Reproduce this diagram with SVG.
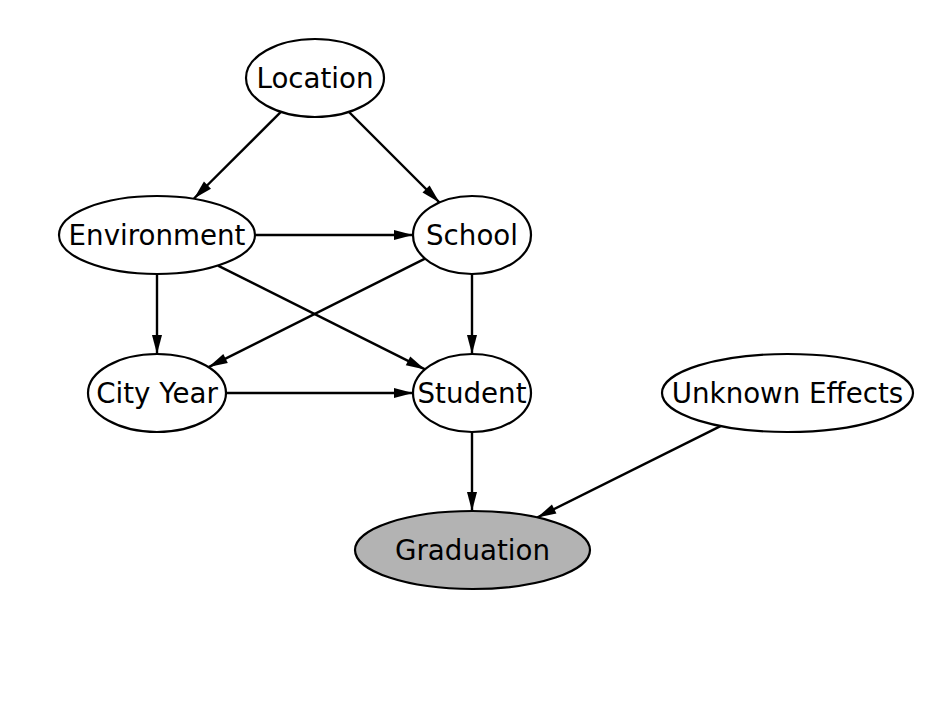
<svg xmlns="http://www.w3.org/2000/svg" width="944" height="708" viewBox="0 0 944 708">
<style>
.node ellipse{fill:#ffffff;stroke:#000000;stroke-width:2.2}
.node.obs ellipse{fill:#b3b3b3}
.node text{font-family:"DejaVu Sans",sans-serif;font-size:27.7px;fill:#000000;text-anchor:middle}
.edges line{stroke:#000000;stroke-width:2.4;marker-end:url(#arr)}
</style>
<defs>
<marker id="arr" markerUnits="userSpaceOnUse" viewBox="-20 -6 21 12" refX="0" refY="0" markerWidth="21" markerHeight="12" orient="auto">
<path d="M0,0 L-19,-5 L-19,5 Z" fill="#000000"/>
</marker>
</defs>
<rect width="944" height="708" fill="#ffffff"/>
<g class="edges">
<line x1="280.9" y1="111.9" x2="194" y2="198.5"/>
<line x1="349" y1="112" x2="439.5" y2="202.5"/>
<line x1="256" y1="235" x2="413" y2="235"/>
<line x1="218" y1="265.6" x2="425" y2="369.4"/>
<line x1="157" y1="274" x2="157" y2="354"/>
<line x1="425" y1="258.6" x2="208.6" y2="367.1"/>
<line x1="472" y1="274" x2="472" y2="354"/>
<line x1="226" y1="393" x2="413" y2="393"/>
<line x1="472" y1="432" x2="472" y2="511"/>
<line x1="720.5" y1="426.1" x2="537.2" y2="517.5"/>
</g>
<g id="location" class="node"><ellipse cx="315" cy="78" rx="69" ry="39"/><text x="315" y="88">Location</text></g>
<g id="environment" class="node"><ellipse cx="157" cy="235" rx="98" ry="39"/><text x="157" y="245">Environment</text></g>
<g id="school" class="node"><ellipse cx="472" cy="235" rx="59" ry="39"/><text x="472" y="245">School</text></g>
<g id="cityyear" class="node"><ellipse cx="157" cy="393" rx="69" ry="39"/><text x="157" y="403">City Year</text></g>
<g id="student" class="node"><ellipse cx="472" cy="393" rx="59" ry="39"/><text x="472" y="403">Student</text></g>
<g id="unknown" class="node"><ellipse cx="787.5" cy="393" rx="125.5" ry="39"/><text x="787.5" y="403">Unknown Effects</text></g>
<g id="graduation" class="node obs"><ellipse cx="472.5" cy="550" rx="117.5" ry="39"/><text x="472.5" y="560">Graduation</text></g>
</svg>
